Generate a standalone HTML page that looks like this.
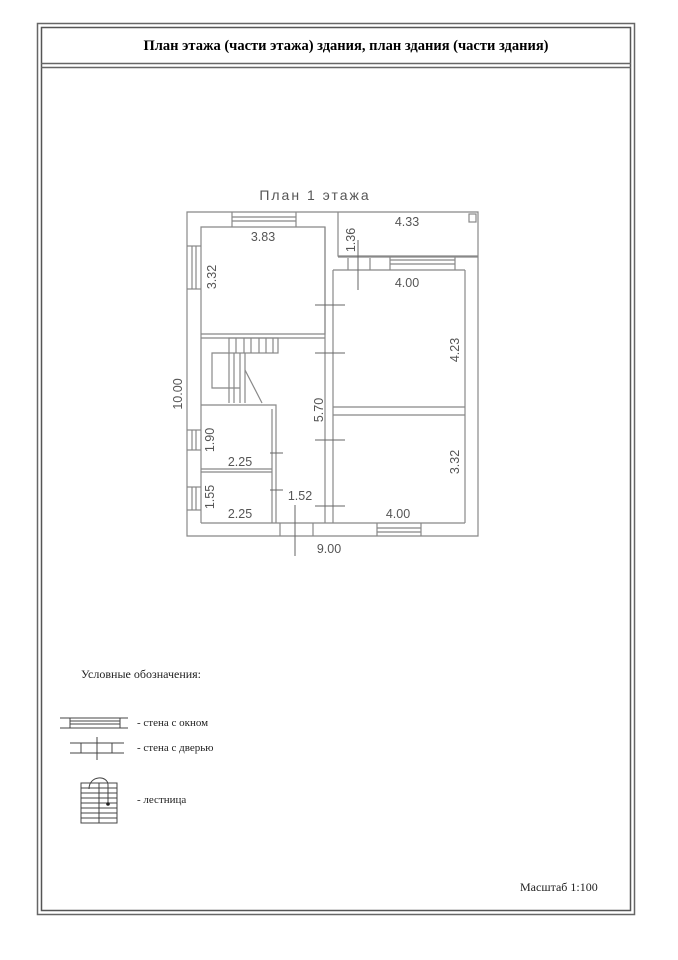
<!DOCTYPE html>
<html><head><meta charset="utf-8"><style>
body{margin:0;background:#fff;width:678px;height:960px;overflow:hidden}
svg{display:block}
</style></head><body>
<svg width="678" height="960" viewBox="0 0 678 960" xmlns="http://www.w3.org/2000/svg" font-family="Liberation Sans, DejaVu Sans, sans-serif">
<g fill="none" stroke="#666" stroke-width="1.5">
<rect x="37.5" y="23.5" width="597" height="891"/>
<rect x="41.5" y="27.5" width="589" height="883" stroke="#555"/>
<line x1="41" y1="63.5" x2="631" y2="63.5"/>
<line x1="41" y1="67.5" x2="631" y2="67.5"/>
</g>
<text x="346" y="50" text-anchor="middle" font-family="Liberation Serif, serif" font-weight="bold" font-size="14.5">План этажа (части этажа) здания, план здания (части здания)</text>

<g fill="none" stroke="#888" stroke-width="1.2">
<polyline points="338,212 187,212 187,536 478,536 478,212 338,212 338,256 478,256"/>
<rect x="469" y="214" width="7" height="8"/>
<polyline points="201,523 201,227 325,227 325,334 201,334"/>
<line x1="201" y1="338" x2="325" y2="338"/>
<line x1="325" y1="227" x2="325" y2="523"/>
<line x1="333" y1="270" x2="333" y2="523"/>
<line x1="338" y1="257" x2="478" y2="257"/>
<line x1="333" y1="270" x2="465" y2="270"/>
<line x1="465" y1="270" x2="465" y2="523"/>
<line x1="348" y1="258" x2="348" y2="270"/><line x1="370" y1="258" x2="370" y2="270"/>
<line x1="390" y1="260" x2="455" y2="260"/><line x1="390" y1="264" x2="455" y2="264"/>
<line x1="390" y1="257" x2="390" y2="270"/><line x1="455" y1="257" x2="455" y2="270"/>
<line x1="333" y1="407" x2="465" y2="407"/><line x1="333" y1="415" x2="465" y2="415"/>
<line x1="201" y1="523" x2="465" y2="523"/>
<polyline points="201,405 276,405 276,523"/>
<line x1="272" y1="409" x2="272" y2="523"/>
<line x1="201" y1="469" x2="272" y2="469"/><line x1="201" y1="472" x2="272" y2="472"/>
<line x1="192" y1="246" x2="192" y2="289"/><line x1="196" y1="246" x2="196" y2="289"/>
<line x1="187" y1="246" x2="201" y2="246"/><line x1="187" y1="289" x2="201" y2="289"/>
<line x1="192" y1="430" x2="192" y2="450"/><line x1="196" y1="430" x2="196" y2="450"/>
<line x1="187" y1="430" x2="201" y2="430"/><line x1="187" y1="450" x2="201" y2="450"/>
<line x1="192" y1="487" x2="192" y2="510"/><line x1="196" y1="487" x2="196" y2="510"/>
<line x1="187" y1="487" x2="201" y2="487"/><line x1="187" y1="510" x2="201" y2="510"/>
<line x1="232" y1="217" x2="296" y2="217"/><line x1="232" y1="221" x2="296" y2="221"/>
<line x1="232" y1="212" x2="232" y2="227"/><line x1="296" y1="212" x2="296" y2="227"/>
<line x1="377" y1="528" x2="421" y2="528"/><line x1="377" y1="532" x2="421" y2="532"/>
<line x1="377" y1="523" x2="377" y2="536"/><line x1="421" y1="523" x2="421" y2="536"/>
<line x1="280" y1="523" x2="280" y2="536"/><line x1="313" y1="523" x2="313" y2="536"/>
<rect x="229" y="338" width="49" height="15"/>
<line x1="236" y1="338" x2="236" y2="353"/><line x1="244" y1="338" x2="244" y2="353"/><line x1="251" y1="338" x2="251" y2="353"/><line x1="259" y1="338" x2="259" y2="353"/><line x1="266" y1="338" x2="266" y2="353"/><line x1="273" y1="338" x2="273" y2="353"/>
<polyline points="229,353 212,353 212,388 240,388"/>
<line x1="229" y1="353" x2="229" y2="403"/><line x1="234" y1="353" x2="234" y2="403"/><line x1="240" y1="353" x2="240" y2="403"/><line x1="245" y1="353" x2="245" y2="403"/>
<line x1="245" y1="370" x2="262" y2="403"/>
</g>
<g stroke="#666" stroke-width="1" fill="none">
<line x1="315" y1="305" x2="345" y2="305"/><line x1="315" y1="353" x2="345" y2="353"/>
<line x1="315" y1="440" x2="345" y2="440"/><line x1="315" y1="506" x2="345" y2="506"/>
<line x1="270" y1="453" x2="283" y2="453"/><line x1="270" y1="490" x2="283" y2="490"/>
<line x1="358" y1="240" x2="358" y2="290"/>
<line x1="295" y1="505" x2="295" y2="556"/>
</g>
<g fill="#555" font-size="12.5">
<text x="315" y="200" text-anchor="middle" font-size="14" letter-spacing="2">План 1 этажа</text>
<text x="263" y="241" text-anchor="middle">3.83</text>
<text x="407" y="226" text-anchor="middle">4.33</text>
<text x="407" y="287" text-anchor="middle">4.00</text>
<text x="398" y="518" text-anchor="middle">4.00</text>
<text x="329" y="553" text-anchor="middle">9.00</text>
<text x="300" y="500" text-anchor="middle">1.52</text>
<text x="240" y="466" text-anchor="middle">2.25</text>
<text x="240" y="518" text-anchor="middle">2.25</text>
<text transform="translate(216,277) rotate(-90)" text-anchor="middle">3.32</text>
<text transform="translate(355,240) rotate(-90)" text-anchor="middle">1.36</text>
<text transform="translate(459,350) rotate(-90)" text-anchor="middle">4.23</text>
<text transform="translate(459,462) rotate(-90)" text-anchor="middle">3.32</text>
<text transform="translate(182,394) rotate(-90)" text-anchor="middle">10.00</text>
<text transform="translate(323,410) rotate(-90)" text-anchor="middle">5.70</text>
<text transform="translate(214,440) rotate(-90)" text-anchor="middle">1.90</text>
<text transform="translate(214,497) rotate(-90)" text-anchor="middle">1.55</text>
</g>

<g font-family="Liberation Serif, serif" fill="#222" font-size="12">
<text x="81" y="678">Условные обозначения:</text>
<text x="137" y="726" font-size="11">- стена с окном</text>
<text x="137" y="751" font-size="11">- стена с дверью</text>
<text x="137" y="803" font-size="11">- лестница</text>
</g>
<g fill="none" stroke="#444" stroke-width="1">
<line x1="60" y1="718" x2="128" y2="718"/><line x1="60" y1="728" x2="128" y2="728"/>
<rect x="70" y="718" width="50" height="10"/><line x1="70" y1="721" x2="120" y2="721"/><line x1="70" y1="724" x2="120" y2="724"/>
<line x1="70" y1="743" x2="124" y2="743"/><line x1="70" y1="753" x2="124" y2="753"/>
<line x1="81" y1="743" x2="81" y2="753"/><line x1="112" y1="743" x2="112" y2="753"/>
<line x1="97" y1="737" x2="97" y2="760"/>
<rect x="81" y="783" width="36" height="40"/><line x1="99" y1="783" x2="99" y2="823"/>
<line x1="81" y1="788" x2="117" y2="788"/><line x1="81" y1="793" x2="117" y2="793"/><line x1="81" y1="798" x2="117" y2="798"/><line x1="81" y1="803" x2="117" y2="803"/><line x1="81" y1="808" x2="117" y2="808"/><line x1="81" y1="813" x2="117" y2="813"/><line x1="81" y1="818" x2="117" y2="818"/>
<path d="M89,789 C89,775 108,775 108,785 L108,804"/>
</g>
<circle cx="108" cy="804" r="1.8" fill="#222"/>
<text x="520" y="891" font-family="Liberation Serif, serif" font-size="12" fill="#222">Масштаб 1:100</text>
</svg>
</body></html>
